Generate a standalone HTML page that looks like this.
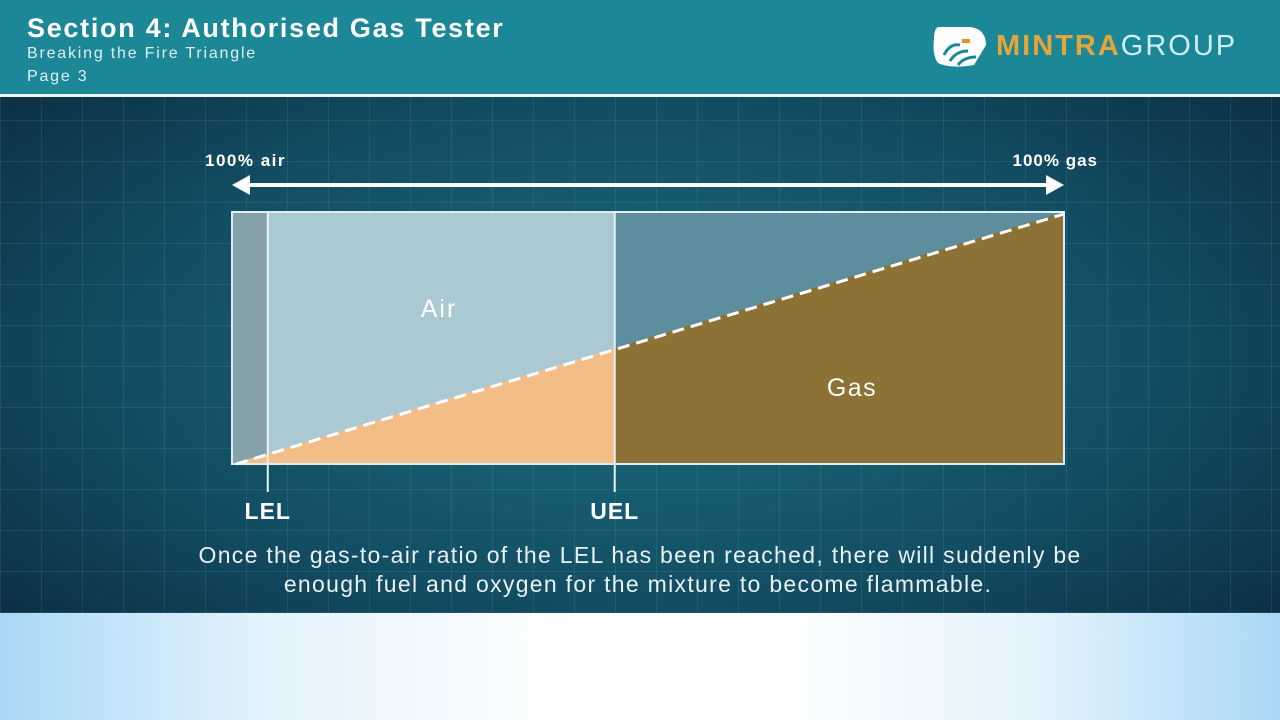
<!DOCTYPE html>
<html><head><meta charset="utf-8"><style>
*{margin:0;padding:0;box-sizing:border-box}
body{width:1280px;height:720px;overflow:hidden;font-family:"Liberation Sans",sans-serif;position:relative;background:#fff}
#header{position:absolute;left:0;top:0;width:1280px;height:94px;background:#1c8797}
#hline{position:absolute;left:0;top:94px;width:1280px;height:3px;background:#e8f4f6}
#stage{position:absolute;left:0;top:97px;width:1280px;height:516px;
background:
 repeating-linear-gradient(90deg,rgba(120,200,210,0.13) 0 1px,transparent 1px 41px),
 repeating-linear-gradient(0deg,rgba(120,200,210,0.13) 0 1px,transparent 1px 41px),
 radial-gradient(ellipse 75% 90% at 50% 50%,#1c6d7f 0%,#124c62 55%,#0a2438 100%);}
#bottom{position:absolute;left:0;top:613px;width:1280px;height:107px;
background:linear-gradient(90deg,#a9d8f6 0%,#e2f2fc 20%,#fff 45%,#fff 60%,#e2f2fc 82%,#a9d8f6 100%)}
.t{position:absolute;color:#fff;white-space:nowrap}
</style></head><body>
<div id="header">
 <div class="t" style="left:27px;top:13px;font-size:27px;font-weight:bold;letter-spacing:1.7px">Section 4: Authorised Gas Tester</div>
 <div class="t" style="left:27px;top:45px;font-size:16px;letter-spacing:1.8px;color:#dff0f3">Breaking the Fire Triangle</div>
 <div class="t" style="left:27px;top:68px;font-size:16px;letter-spacing:1.8px;color:#dff0f3">Page 3</div>
 <svg style="position:absolute;left:930px;top:25px" width="60" height="44" viewBox="0 0 60 44">
  <path d="M8 2 H40 Q56 4 56 20 L44 40 Q20 44 8 38 Q2 30 4 14 Q4 4 8 2Z" fill="#fff"/>
  <path d="M14 30 Q20 18 30 20 M20 36 Q26 26 38 26 M28 40 Q34 32 46 32" stroke="#1c8797" stroke-width="3" fill="none"/>
  <rect x="32" y="14" width="8" height="4" fill="#e8932a"/>
 </svg>
 <div class="t" style="left:996px;top:30px;font-size:29px;letter-spacing:2px"><span style="color:#e5a53a;font-weight:bold">MINTRA</span><span style="color:#cfeff6">GROUP</span></div>
</div>
<div id="hline"></div>
<div id="stage"></div>
<div id="bottom"></div>
<svg id="chart" style="position:absolute;left:0;top:0" width="1280" height="720"></svg>
<div class="t" style="left:0;width:1280px;text-align:center;top:542px;font-size:23px;letter-spacing:1.3px;color:#e8f1f3">Once the gas-to-air ratio of the LEL has been reached, there will suddenly be</div>
<div class="t" style="left:0;width:1276px;text-align:center;top:571px;font-size:23px;letter-spacing:1.3px;color:#e8f1f3">enough fuel and oxygen for the mixture to become flammable.</div>
<script>
const limitNames=['LEL','UEL'];
const limitPercents=[4.3,46];
const regionLabels=['Air','Gas'];
const axisEnds=['100% air','100% gas'];
const NS='http://www.w3.org/2000/svg';
const svg=document.getElementById('chart');
const X0=232,X1=1064,Y0=212,Y1=464;
const x=p=>X0+(X1-X0)*p/100;
const y=p=>Y1-(Y1-Y0)*p/100;
function el(tag,a){const e=document.createElementNS(NS,tag);for(const k in a)e.setAttribute(k,a[k]);svg.appendChild(e);return e;}
const lel=limitPercents[0],uel=limitPercents[1];
let e;
e=el('rect',{x:X0,y:Y0,width:x(lel)-X0,height:Y1-Y0,fill:'#8fa9b1',opacity:0.92});


e=el('rect',{x:x(lel),y:Y0,width:x(uel)-x(lel),height:Y1-Y0,fill:'#abc9d3'});


e=el('rect',{x:x(uel),y:Y0,width:X1-x(uel),height:Y1-Y0,fill:'#5d8e9d'});


e=el('polygon',{points:`${X0},${Y1} ${x(uel)},${y(uel)} ${x(uel)},${Y1}`,fill:'#f3bd88'});


e=el('polygon',{points:`${x(uel)},${y(uel)} ${X1},${Y0} ${X1},${Y1} ${x(uel)},${Y1}`,fill:'#8d7236'});


e=el('rect',{x:X0,y:Y0,width:X1-X0,height:Y1-Y0,fill:'none',stroke:'#dfeef2','stroke-width':2});


e=el('line',{x1:X0+4,y1:Y1,x2:X1,y2:Y0+2,stroke:'#fff','stroke-width':3,'stroke-dasharray':'12 7'});


limitNames.forEach((n,i)=>{
 const lx=x(limitPercents[i]);
 let l=el('line',{x1:lx,y1:Y0,x2:lx,y2:Y1+28,stroke:'#e8f3f6','stroke-width':2});
 
 
 let t=el('text',{x:lx,y:519,'text-anchor':'middle',fill:'#fff','font-size':23,'font-weight':'bold','font-family':'Liberation Sans','letter-spacing':1});
 t.textContent=n;
 
 
});
e=el('text',{x:439,y:317,'text-anchor':'middle',fill:'#fff','font-size':25,'letter-spacing':2,'font-family':'Liberation Sans'});
e.textContent=regionLabels[0];


e=el('text',{x:852,y:396,'text-anchor':'middle',fill:'#fff','font-size':25,'letter-spacing':1.5,'font-family':'Liberation Sans'});
e.textContent=regionLabels[1];


e=el('line',{x1:245,y1:185,x2:1050,y2:185,stroke:'#fff','stroke-width':4});


e=el('polygon',{points:'232,185 250,175 250,195',fill:'#fff'});


e=el('polygon',{points:'1064,185 1046,175 1046,195',fill:'#fff'});


e=el('text',{x:205,y:166,fill:'#fff','font-size':17,'font-weight':'bold','letter-spacing':1.5,'font-family':'Liberation Sans'});
e.textContent=axisEnds[0];


e=el('text',{x:1098,y:166,'text-anchor':'end',fill:'#fff','font-size':17,'font-weight':'bold','letter-spacing':1,'font-family':'Liberation Sans'});
e.textContent=axisEnds[1];


</script>
</body></html>
